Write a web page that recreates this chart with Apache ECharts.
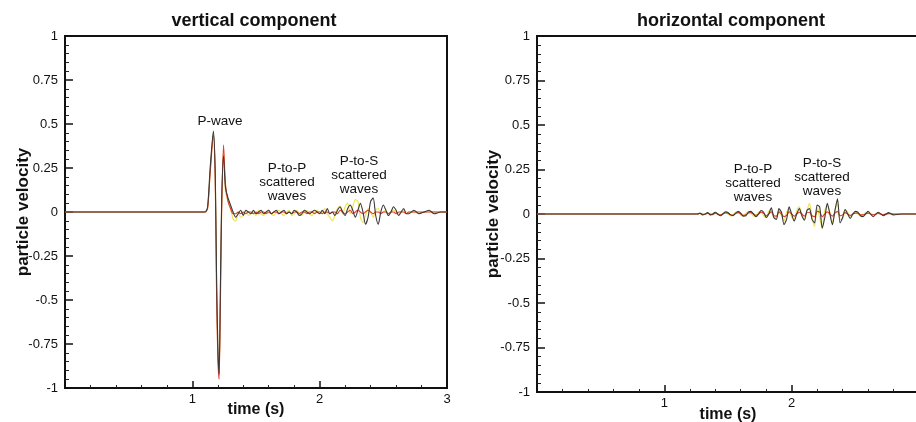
<!DOCTYPE html>
<html>
<head>
<meta charset="utf-8">
<script src="https://cdn.jsdelivr.net/npm/echarts@6/dist/echarts.min.js"></script>
<style>
html,body{margin:0;padding:0;background:#fff;}
#chart{width:916px;height:422px;}
</style>
</head>
<body>
<div id="chart"></div>
<script>
// ---------- data ----------
var panelTitles = ['vertical component', 'horizontal component'];
var xTickLabels = ['', '1', '2', '3'];

// vertical component (left panel)
var vertTime = [0, 0.5, 1.0, 1.10, 1.12, 1.14, 1.165, 1.18, 1.19, 1.20, 1.21, 1.22, 1.23, 1.245, 1.26, 1.28,
  1.30, 1.32, 1.34, 1.36, 1.38, 1.40, 1.42, 1.44, 1.46, 1.48, 1.50, 1.52, 1.54, 1.56, 1.58, 1.60, 1.62, 1.64, 1.66, 1.68,
  1.70, 1.72, 1.74, 1.76, 1.78, 1.80, 1.82, 1.84, 1.86, 1.88, 1.90, 1.92, 1.94, 1.96, 1.98, 2.00, 2.02, 2.04, 2.06, 2.08,
  2.10, 2.12, 2.14, 2.16, 2.18, 2.20, 2.22, 2.24, 2.26, 2.28, 2.30, 2.32, 2.34, 2.36, 2.38, 2.40, 2.42, 2.44, 2.46, 2.48,
  2.50, 2.52, 2.54, 2.56, 2.58, 2.60, 2.62, 2.64, 2.66, 2.68, 2.70, 2.74, 2.78, 2.82, 2.86, 2.90, 2.95, 3.00];
var vertBlack = [0, 0, 0, 0, 0.03, 0.25, 0.46, 0.22, -0.35, -0.75, -0.92, -0.45, 0.05, 0.32, 0.14, 0.08,
  0.04, 0.00, -0.03, -0.01, 0.01, -0.02, 0.01, 0.00, -0.01, 0.01, -0.01, 0.00, 0.01, -0.01, 0.00, 0.01, -0.01, 0.00, 0.01, -0.01,
  0.00, 0.01, -0.01, 0.00, -0.01, 0.01, 0.00, -0.02, -0.01, 0.01, 0.00, -0.01, 0.00, 0.01, 0.00, -0.01, 0.01, -0.01, 0.02, -0.01,
  0.00, -0.02, 0.01, 0.03, 0.00, -0.02, 0.02, 0.04, 0.01, -0.03, 0.01, 0.05, 0.00, -0.07, -0.03, 0.06, 0.08, -0.02, -0.07, 0.00,
  0.04, 0.01, -0.02, 0.00, 0.03, 0.01, -0.02, 0.00, 0.02, -0.01, -0.01, 0.01, -0.01, 0.00, 0.01, -0.01, 0.00, 0.00];
var vertRed = [0, 0, 0, 0, 0.02, 0.22, 0.44, 0.18, -0.45, -0.82, -0.95, -0.55, 0.00, 0.38, 0.16, 0.06,
  0.02, -0.01, -0.01, 0.00, -0.01, 0.00, -0.01, 0.00, 0.00, -0.01, 0.00, -0.01, 0.00, 0.00, -0.01, 0.00, -0.01, 0.00, 0.00, -0.01,
  0.00, 0.00, -0.01, 0.00, -0.01, 0.00, 0.00, -0.01, 0.00, 0.00, -0.01, 0.00, 0.00, -0.01, 0.00, 0.00, -0.01, 0.00, 0.00, -0.01,
  0.00, 0.00, -0.01, 0.01, 0.00, -0.01, 0.00, 0.01, -0.01, 0.00, 0.01, 0.00, -0.01, 0.00, 0.01, 0.00, -0.01, 0.00, 0.00, -0.01,
  0.00, 0.00, -0.01, 0.00, 0.00, -0.01, 0.00, 0.00, 0.00, -0.01, 0.00, 0.00, 0.00, 0.00, 0.00, 0.00, 0.00, 0.00];
var vertYellow = [0, 0, 0, 0, 0.02, 0.23, 0.45, 0.20, -0.40, -0.80, -0.93, -0.50, 0.02, 0.35, 0.12, 0.06,
  0.02, -0.04, -0.05, 0.00, -0.03, -0.02, 0.01, -0.02, -0.01, 0.00, -0.02, 0.01, -0.01, -0.02, 0.00, 0.01, -0.01, -0.02, 0.00, 0.01,
  -0.01, -0.02, 0.00, 0.01, -0.02, -0.01, 0.01, -0.01, -0.02, 0.00, 0.01, -0.01, -0.02, 0.00, 0.01, -0.01, 0.00, 0.02, -0.01, -0.03,
  -0.05, -0.02, 0.02, 0.03, -0.01, 0.03, 0.05, -0.01, 0.03, 0.07, 0.06, -0.03, -0.06, -0.02, 0.02, 0.00, -0.03, 0.01, 0.02, -0.01,
  0.00, 0.01, -0.01, 0.00, 0.01, 0.00, -0.01, 0.00, 0.01, 0.00, 0.00, 0.00, -0.01, 0.00, 0.00, 0.00, 0.00, 0.00];

// horizontal component (right panel)
var horTime = [0, 0.5, 1.0, 1.26, 1.28, 1.30, 1.32, 1.34, 1.36, 1.38, 1.40, 1.42, 1.44, 1.46, 1.48,
  1.50, 1.52, 1.54, 1.56, 1.58, 1.60, 1.62, 1.64, 1.66, 1.68, 1.70, 1.72, 1.74, 1.76, 1.78, 1.80, 1.82, 1.84, 1.86, 1.88,
  1.90, 1.92, 1.94, 1.96, 1.98, 2.00, 2.02, 2.04, 2.06, 2.08, 2.10, 2.12, 2.14, 2.16, 2.18, 2.20, 2.22, 2.24, 2.26, 2.28,
  2.30, 2.32, 2.34, 2.36, 2.38, 2.40, 2.42, 2.44, 2.46, 2.48, 2.50, 2.52, 2.54, 2.56, 2.58, 2.60,
  2.64, 2.68, 2.72, 2.76, 2.80, 2.86, 2.92, 3.00];
var horBlack = [0, 0, 0, 0, 0.005, -0.005, 0, 0.008, -0.005, 0, 0.01, 0, -0.01, 0, 0.012,
  0.008, -0.005, -0.01, 0.005, 0.015, 0.005, -0.012, -0.01, 0.01, 0.015, 0, -0.015, 0, 0.02, 0.01, -0.02, 0, 0.035, -0.02, -0.03,
  0.03, 0.01, -0.06, -0.03, 0.04, 0, -0.04, 0, 0.03, -0.01, -0.035, 0.02, 0.03, -0.03, -0.05, 0.05, 0.04, -0.08, -0.02, 0.06,
  0, -0.06, 0.02, 0.085, -0.05, -0.02, 0.025, 0, -0.025, 0, 0.015, 0.01, -0.01, -0.015, 0, 0.015,
  -0.015, 0.01, -0.01, 0.008, -0.005, 0, 0, 0];
var horRed = [0, 0, 0, 0, 0.003, 0, -0.003, 0.004, 0, -0.004, 0.005, 0, -0.005, 0, 0.006,
  0.004, -0.004, -0.006, 0.003, 0.008, 0, -0.008, -0.004, 0.006, 0.008, 0, -0.008, 0, 0.01, 0.004, -0.01, 0, 0.012, -0.01, -0.012,
  0.012, 0, -0.015, -0.008, 0.012, 0, -0.012, 0, 0.01, 0, -0.012, 0.008, 0.01, -0.01, -0.015, 0.015, 0.01, -0.015, 0, 0.012,
  0, -0.012, 0.005, 0.015, -0.01, -0.005, 0.008, 0, -0.008, 0, 0.005, 0.004, -0.004, -0.005, 0, 0.004,
  -0.004, 0.003, -0.003, 0.002, 0, 0, 0, 0];
var horYellow = [0, 0, 0, 0, 0.004, -0.004, 0.002, 0.006, -0.006, 0, 0.008, -0.004, -0.008, 0.004, 0.01,
  0, -0.01, -0.004, 0.01, 0.01, -0.006, -0.012, 0.004, 0.014, 0.006, -0.012, -0.008, 0.012, 0.014, -0.01, -0.02, 0.015, 0.025, -0.02, -0.02,
  0.02, -0.01, -0.04, 0.01, 0.03, -0.02, -0.03, 0.02, 0.04, 0, -0.03, 0.02, 0.06, -0.02, -0.07, 0.04, -0.02, -0.08, 0.02, 0.05,
  0.01, -0.05, 0.02, 0.06, -0.03, -0.03, 0.02, 0.01, -0.02, 0, 0.01, 0, -0.01, -0.005, 0.005, 0.01,
  -0.01, 0.006, -0.006, 0.004, 0, 0, 0, 0];

// ---------- chart ----------
function zip(t, v) { return t.map(function (x, i) { return [x, v[i]]; }); }

var FONT = '"Liberation Sans", Arial, sans-serif';
var grids = [
  { left: 65, top: 36, width: 382, height: 352 },
  { left: 537, top: 36, width: 382, height: 356 }
];

function xAxisFor(i) {
  return {
    type: 'value', gridIndex: i, min: 0, max: 3, interval: 1,
    axisLine: { show: true, onZero: false, lineStyle: { color: '#111', width: 2 } },
    axisTick: { show: true, inside: true, length: 7, lineStyle: { color: '#111', width: 1.5 } },
    minorTick: { show: true, splitNumber: 5, length: 3, lineStyle: { color: '#222', width: 1 } },
    splitLine: { show: false },
    axisLabel: { margin: 5, fontFamily: FONT, fontSize: 13, color: '#111',
      formatter: function (v) { return Number.isInteger(v) ? xTickLabels[v] : ''; } },
    name: 'time (s)', nameLocation: 'middle', nameGap: i === 0 ? 14 : 15, nameMoveOverlap: false,
    nameTextStyle: { fontFamily: FONT, fontSize: 16, fontWeight: 'bold', color: '#111' }
  };
}
function yAxisFor(i) {
  return {
    type: 'value', gridIndex: i, min: -1, max: 1, interval: 0.25,
    axisLine: { show: true, onZero: false, lineStyle: { color: '#111', width: 2 } },
    axisTick: { show: true, inside: true, length: 8, lineStyle: { color: '#111', width: 1.5 } },
    minorTick: { show: true, splitNumber: 5, length: 4, lineStyle: { color: '#222', width: 1 } },
    splitLine: { show: false },
    axisLabel: { margin: 7, fontFamily: FONT, fontSize: 13, color: '#111',
      formatter: function (v) { return String(v); } },
    name: 'particle velocity', nameLocation: 'middle', nameGap: i === 0 ? 33 : 35, nameMoveOverlap: false,
    nameTextStyle: { fontFamily: FONT, fontSize: 17, fontWeight: 'bold', color: '#111' }
  };
}
function line(name, data, color, width, idx, z) {
  return {
    name: name, type: 'line', xAxisIndex: idx, yAxisIndex: idx, data: data,
    showSymbol: false, symbol: 'none', smooth: 0.25, z: z,
    lineStyle: { color: color, width: width }, animation: false
  };
}

var YEL = '#efe35a', RED = '#e3392b', BLK = '#3a3a3a';

function txt(x, y, s, size, weight) {
  return { type: 'text', x: x, y: y, z: 100,
    style: { text: s, fill: '#111', font: (weight || 'normal') + ' ' + size + 'px ' + FONT,
      align: 'center', verticalAlign: 'middle', lineHeight: 14 } };
}

var option = {
  backgroundColor: '#fff',
  animation: false,
  grid: grids.map(function (g) {
    return Object.assign({ show: true, borderColor: '#111', borderWidth: 2, backgroundColor: 'transparent',
      outerBoundsMode: 'none', containLabel: false }, g);
  }),
  xAxis: [xAxisFor(0), xAxisFor(1)],
  yAxis: [yAxisFor(0), yAxisFor(1)],
  series: [
    line('vertical yellow', zip(vertTime, vertYellow), YEL, 1.2, 0, 2),
    line('vertical red', zip(vertTime, vertRed), RED, 1.1, 0, 3),
    line('vertical black', zip(vertTime, vertBlack), BLK, 1.1, 0, 4),
    line('horizontal yellow', zip(horTime, horYellow), YEL, 1.2, 1, 2),
    line('horizontal red', zip(horTime, horRed), RED, 1.1, 1, 3),
    line('horizontal black', zip(horTime, horBlack), BLK, 1.1, 1, 4)
  ],
  graphic: [
    txt(254, 21, panelTitles[0], 18, 'bold'),
    txt(731, 21, panelTitles[1], 18, 'bold'),
    txt(220, 121, 'P-wave', 13.5, 'normal'),
    txt(287, 182, 'P-to-P\nscattered\nwaves', 13.5, 'normal'),
    txt(359, 175, 'P-to-S\nscattered\nwaves', 13.5, 'normal'),
    txt(753, 183, 'P-to-P\nscattered\nwaves', 13.5, 'normal'),
    txt(822, 177, 'P-to-S\nscattered\nwaves', 13.5, 'normal')
  ]
};

var chart = echarts.init(document.getElementById('chart'), null, { renderer: 'canvas' });
chart.setOption(option);
</script>
</body>
</html>
